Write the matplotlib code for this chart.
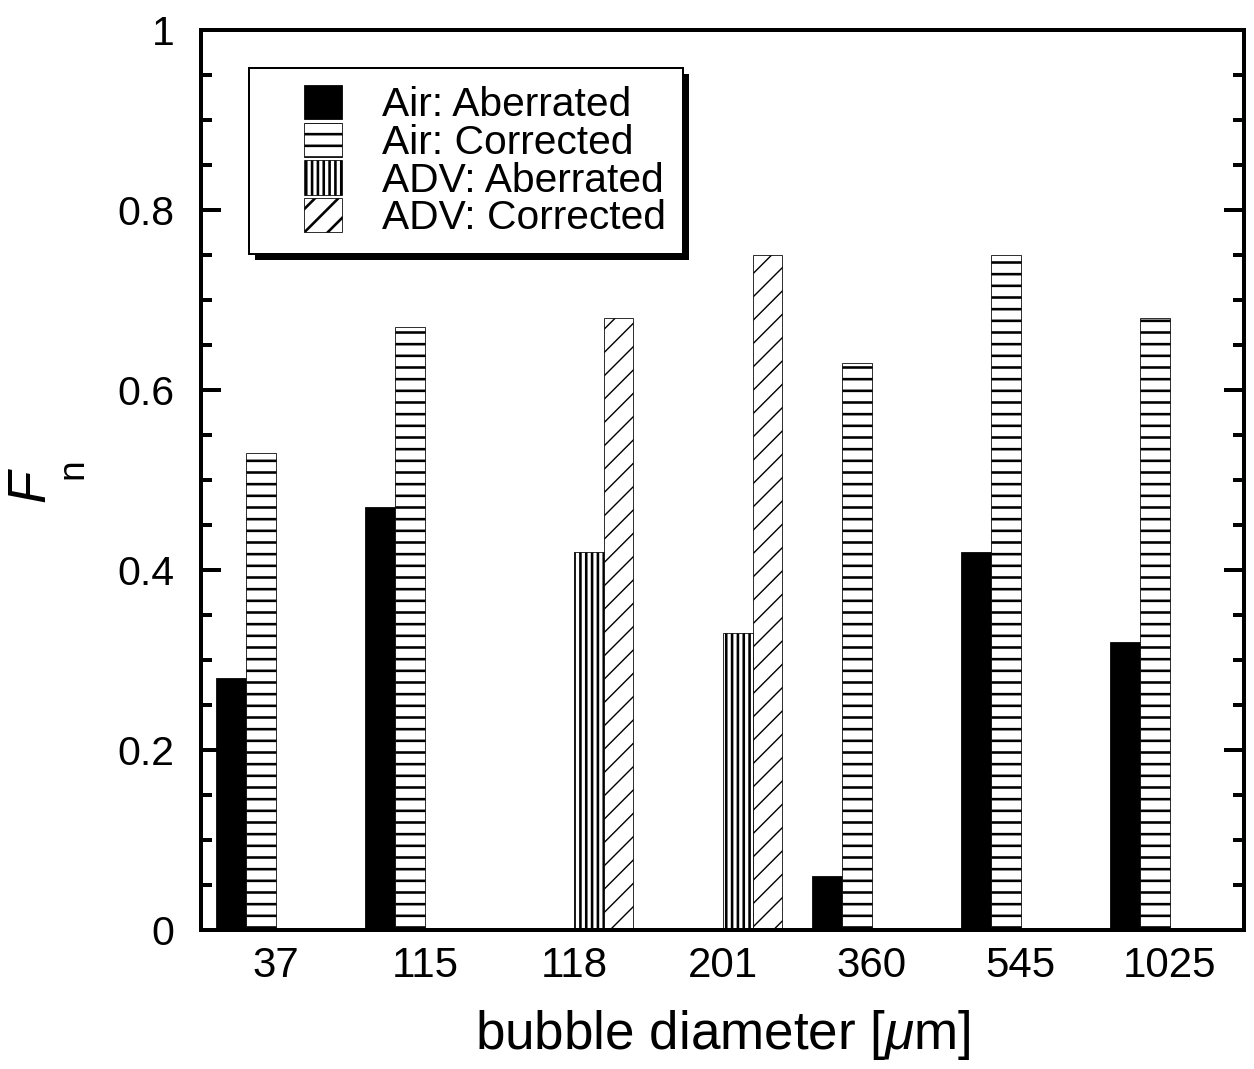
import numpy as np
import matplotlib
matplotlib.use('Agg')
import matplotlib.pyplot as plt
from matplotlib.patches import Rectangle, Shadow
from matplotlib.legend_handler import HandlerPatch
from matplotlib.ticker import FixedLocator, MultipleLocator, FuncFormatter

# ---- data ----
categories = ['37', '115', '118', '201', '360', '545', '1025']
air_aberrated = [0.28, 0.47, 0.0, 0.0, 0.06, 0.42, 0.32]
air_corrected = [0.53, 0.67, 0.0, 0.0, 0.63, 0.75, 0.68]
adv_aberrated = [0.0, 0.0, 0.42, 0.33, 0.0, 0.0, 0.0]
adv_corrected = [0.0, 0.0, 0.68, 0.75, 0.0, 0.0, 0.0]
series_labels = ['Air: Aberrated', 'Air: Corrected', 'ADV: Aberrated', 'ADV: Corrected']
y_ticks = [0, 0.2, 0.4, 0.6, 0.8, 1.0]

DPI = 70
PT = 72.0 / DPI  # points per pixel

plt.rcParams.update({
    'font.family': ['Liberation Sans', 'DejaVu Sans'],
    'mathtext.fontset': 'custom',
    'mathtext.rm': 'Liberation Sans',
    'mathtext.it': 'Liberation Sans:italic',
    'hatch.linewidth': 2.6 * PT,
})

W, H = 1254, 1069
fig = plt.figure(figsize=(W / DPI, H / DPI), dpi=DPI)
ax = fig.add_axes([201.5 / W, 1 - 930 / H, 1042.5 / W, 900 / H])

x = np.arange(len(categories))
width = 0.2
offsets = [-0.3, -0.1, 0.1, 0.3]
series = [air_aberrated, air_corrected, adv_aberrated, adv_corrected]
styles = [
    dict(facecolor='black', hatch=None),
    dict(facecolor='white', hatch='-'),
    dict(facecolor='white', hatch='||'),
    dict(facecolor='white', hatch='/'),
]
handles = []
for vals, off, st, lab in zip(series, offsets, styles, series_labels):
    bc = ax.bar(x + off, vals, width, label=lab, edgecolor='black',
                linewidth=0.8 * PT, zorder=2, **st)
    if st['hatch'] == '/':
        for p in bc.patches:
            if hasattr(p, 'set_hatch_linewidth'):
                p.set_hatch_linewidth(1.4 * PT)
    handles.append(bc.patches[0])

ax.set_xlim(-0.5, 6.5)
ax.set_ylim(0, 1)
ax.set_xticks(x, categories)
ax.yaxis.set_major_locator(FixedLocator(y_ticks))
ax.yaxis.set_minor_locator(MultipleLocator(0.05))
ax.yaxis.set_major_formatter(FuncFormatter(lambda v, p: f"{v:g}"))

ax.tick_params(axis='y', which='both', direction='in', left=True, right=True,
               width=4 * PT, labelsize=41 * PT, pad=27 * PT)
ax.tick_params(axis='y', which='major', length=20 * PT)
ax.tick_params(axis='y', which='minor', length=11 * PT)
ax.tick_params(axis='x', which='both', length=0, labelsize=42 * PT, pad=16 * PT)
for s in ax.spines.values():
    s.set_linewidth(4 * PT)

ax.set_xlabel('bubble diameter [$\\mu$m]', fontsize=53 * PT, va='center')
ax.xaxis.set_label_coords(0.5, -0.1167)
ax.set_ylabel('$F$', fontsize=53 * PT, va='center')
ax.yaxis.set_label_coords((32.5 - 201.5) / 1042.5, (930 - 485.5) / 900)
ax.text((72.5 - 201.5) / 1042.5, (930 - 468.5) / 900, 'n', transform=ax.transAxes,
        rotation=90, rotation_mode='anchor', ha='center', va='center',
        fontsize=37 * PT, clip_on=False)

# legend
fs = 40.7  # px
hw = 38 * PT


def rect_func(legend, orig_handle, xdescent, ydescent, width, height, fontsize):
    return Rectangle((-xdescent + width - hw, -ydescent), hw, height)


leg = ax.legend(handles, series_labels, loc='upper left',
                bbox_to_anchor=((249 - 201.5) / 1042.5, (930 - 68) / 900),
                borderaxespad=0, fontsize=fs * PT, frameon=True, fancybox=False,
                edgecolor='black', framealpha=1, borderpad=17 / fs,
                handlelength=76 / fs, handleheight=37.3 / fs,
                handletextpad=40 / fs, labelspacing=-0.035,
                handler_map={Rectangle: HandlerPatch(patch_func=rect_func)})
leg.get_frame().set_linewidth(2 * PT)
leg.set_zorder(5)
sh = Shadow(leg.legendPatch, 6 * PT, -6 * PT, facecolor='black',
            edgecolor='black', alpha=1, linewidth=0)
sh.set_zorder(4.9)
sh.set_clip_on(False)
ax.add_artist(sh)

fig.canvas.draw()
fig.savefig('out.png', dpi=DPI)
